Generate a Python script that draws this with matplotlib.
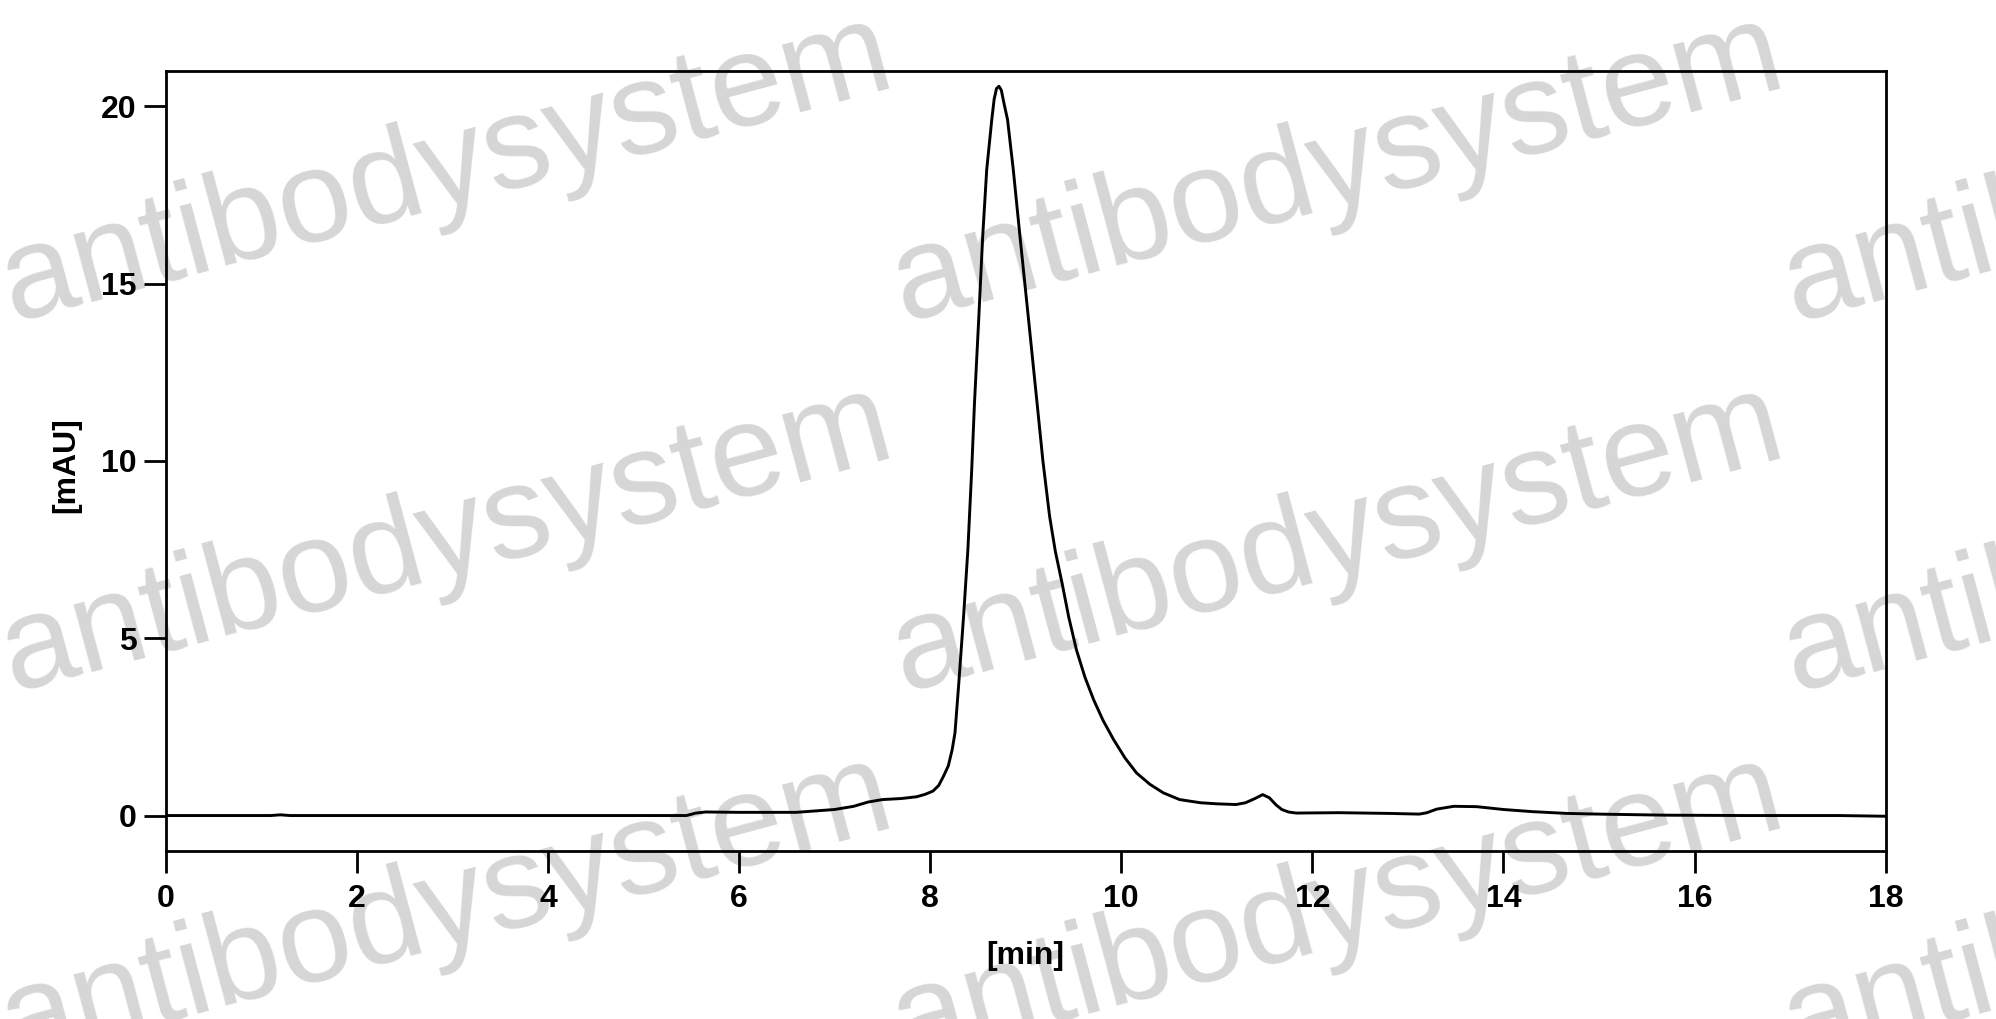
import numpy as np
import matplotlib
matplotlib.use('Agg')
import matplotlib.pyplot as plt

plt.rcParams['font.family'] = ['Liberation Sans', 'DejaVu Sans']

# chromatogram trace: retention time [min], signal [mAU]
time_min = [0.0, 1.1, 1.2, 1.3, 5.45, 5.55, 5.65, 6.0, 6.6, 7.0, 7.2, 7.35, 7.5, 7.7,
            7.86, 7.95, 8.03, 8.09, 8.14, 8.19, 8.23, 8.26, 8.30, 8.35, 8.395, 8.435,
            8.464, 8.508, 8.55, 8.592, 8.645, 8.67, 8.695, 8.72, 8.745, 8.775, 8.81,
            8.87, 8.94, 9.03, 9.12, 9.18, 9.25, 9.31, 9.38, 9.45, 9.53, 9.62, 9.71,
            9.81, 9.92, 10.04, 10.16, 10.3, 10.44, 10.61, 10.83,
            11.0, 11.2, 11.3, 11.4, 11.48, 11.55, 11.62, 11.68, 11.75, 11.83, 12.28,
            12.8, 13.12, 13.2, 13.3, 13.48, 13.72, 14.0, 14.3, 14.66, 15.0, 15.7, 16.5,
            17.5, 18.0]
signal_mau = [0.0, 0.0, 0.02, 0.0, 0.0, 0.07, 0.10, 0.09, 0.09, 0.17, 0.26, 0.38, 0.45, 0.48,
              0.53, 0.60, 0.69, 0.85, 1.11, 1.40, 1.85, 2.33, 3.74, 5.62, 7.50, 9.75,
              11.63, 13.98, 16.33, 18.21, 19.62, 20.2, 20.5, 20.56, 20.45, 20.05, 19.62,
              18.21, 16.33, 13.98, 11.6, 10.0, 8.44, 7.45, 6.56, 5.6, 4.68, 3.9, 3.27,
              2.68, 2.14, 1.62, 1.20, 0.88, 0.64, 0.45, 0.36,
              0.33, 0.31, 0.36, 0.48, 0.59, 0.50, 0.30, 0.17, 0.10, 0.07, 0.08,
              0.06, 0.04, 0.08, 0.18, 0.26, 0.25, 0.17, 0.11, 0.06, 0.04, 0.01, 0.0,
              0.0, -0.02]

x_ticks = [0, 2, 4, 6, 8, 10, 12, 14, 16, 18]
y_ticks = [0, 5, 10, 15, 20]

W, H = 1996, 1019
fig = plt.figure(figsize=(W/100, H/100), dpi=100)
fig.patch.set_facecolor('white')

# watermark grid (pixel anchors of the baseline start)
for py in [322, 692, 1062]:
  for px in [12, 903, 1794]:
    fig.text(px/W, 1 - py/H, 'antibodysystem', fontsize=95, color='#d6d6d6',
             rotation=15, rotation_mode='anchor', ha='left', va='baseline', zorder=-1)

ax = fig.add_axes([165.7/W, 1 - 851/H, 1720/W, 780.3/H])
ax.patch.set_visible(False)

ax.plot(time_min, signal_mau, color='black', lw=2.1, solid_joinstyle='round')

ax.set_xlim(0, 18)
ax.set_ylim(-1, 21)
ax.set_xticks(x_ticks)
ax.set_yticks(y_ticks)
ax.set_xticklabels([str(t) for t in x_ticks])
ax.set_yticklabels([str(t) for t in y_ticks])

for sp in ax.spines.values():
  sp.set_linewidth(2.0)
ax.tick_params(direction='out', length=16, width=2.0, labelsize=23)
ax.tick_params(axis='x', pad=8)
ax.tick_params(axis='y', pad=5)
for lab in ax.get_xticklabels() + ax.get_yticklabels():
  lab.set_fontweight('bold')

ax.set_xlabel('[min]', fontsize=23, fontweight='bold')
ax.set_ylabel('[mAU]', fontsize=23, fontweight='bold')
ax.xaxis.set_label_coords(0.5, -0.115)
ax.yaxis.set_label_coords(-0.049, 0.494)

fig.savefig('out.png', dpi=100)
